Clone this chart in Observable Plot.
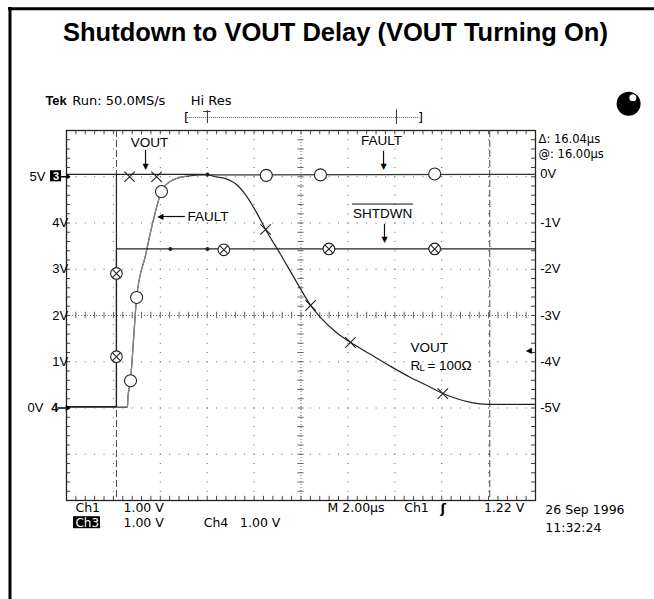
<!DOCTYPE html>
<html><head><meta charset="utf-8">
<script src="https://cdn.jsdelivr.net/npm/d3@7"></script>
<script src="https://cdn.jsdelivr.net/npm/@observablehq/plot@0.6"></script>
<style>
body{margin:0;background:#fff;}
#chart{position:absolute;left:0;top:0;}
g[aria-label="tek-text"] text{letter-spacing:0.5px;}
g[aria-label="tek-readout"] text{letter-spacing:1.3px;}
</style></head><body><div id="chart"></div>
<script>
// Time axis: µs (2 µs/div, 10 div). Left channel volts (1 V/div).
const voutTime  = [0, 5.93, 6.35, 6.78, 7.21, 7.72, 8.10, 8.49, 9.13, 9.77, 10.41, 10.83, 11.47, 12.11, 12.96, 13.82, 14.67, 15.52, 16.03, 16.59, 17.23, 18.00, 20];
const voutVolts = [5.05, 5.05, 5.0, 4.96, 4.85, 4.55, 4.23, 3.86, 3.32, 2.76, 2.22, 1.96, 1.65, 1.42, 1.16, 0.90, 0.66, 0.45, 0.32, 0.21, 0.12, 0.08, 0.08];

const faultTime  = [0, 2.60, 2.62, 2.73, 2.86, 2.99, 3.37, 3.67, 4.05, 4.43, 5.07, 6.01, 20];
const faultVolts = [0.02, 0.02, 0.23, 0.59, 1.49, 2.39, 3.30, 3.99, 4.68, 4.90, 5.01, 5.04, 5.05];

const shdnTime  = [0, 2.13, 2.13, 20];
const shdnVolts = [0.03, 0.03, 3.44, 3.44];

const voutMarkTime  = [2.69, 3.84, 8.49, 10.41, 12.11, 16.05];
const voutMarkVolts = [5.0, 5.0, 3.86, 2.22, 1.42, 0.31];
const faultMarkTime  = [2.73, 2.99, 4.05, 8.52, 10.83, 15.70];
const faultMarkVolts = [0.59, 2.39, 4.68, 5.03, 5.04, 5.06];
const shdnMarkTime  = [2.13, 2.13, 6.71, 11.19, 15.70];
const shdnMarkVolts = [1.11, 2.91, 3.42, 3.44, 3.44];
const traceDotTime  = [6.01, 4.43, 6.01];
const traceDotVolts = [5.05, 3.44, 3.44];

const cursorTimes = [2.13, 18.05];
const timeGrid = [2, 4, 6, 8, 12, 14, 16, 18];
const voltGrid = [-1, 0, 1, 3, 4, 5];
const leftTickVals = [1, 2, 3, 4];
const leftTickLabels = ["1V", "2V", "3V", "4V"];
const rightTickVals = [5, 4, 3, 2, 1, 0];
const rightTickLabels = ["0V", "-1V", "-2V", "-3V", "-4V", "-5V"];

const zip = (ts, vs) => ts.map((t, i) => ({t, v: vs[i]}));
const vout = zip(voutTime, voutVolts);
const fault = zip(faultTime, faultVolts);
const shdn = zip(shdnTime, shdnVolts);
const minorT = d3.range(0, 20.001, 0.4);
const minorV = d3.range(-2, 6.001, 0.2);

const T = (arr, opts) => Plot.text(arr, {x: "t", y: "v", text: "s", ...opts});
const sans = "Liberation Sans, Arial, sans-serif";
const tek = "DejaVu Sans, sans-serif";

const annotations = [
  {s: "VOUT", t: 3.54, v: 5.74, a: "middle"},
  {s: "FAULT", t: 13.43, v: 5.78, a: "middle"},
  {s: "FAULT", t: 5.16, v: 4.13, a: "start"},
  {s: "SHTDWN", t: 13.48, v: 4.21, a: "middle"},
  {s: "VOUT", t: 14.67, v: 1.31, a: "start"}
];

const plot = Plot.plot({
  width: 654, height: 599,
  marginLeft: 66, marginRight: 119, marginTop: 130, marginBottom: 99,
  x: {domain: [0, 20], axis: null},
  y: {domain: [-2, 6], axis: null},
  style: {fontFamily: sans, background: "white", overflow: "visible"},
  marks: [
    // page frame (left and top)
    Plot.ruleX([-2.41], {y1: 8.66, y2: -4.2, stroke: "black", strokeWidth: 3}),
    Plot.ruleY([8.63], {x1: -2.47, x2: 25.2, stroke: "black", strokeWidth: 3}),
    // graticule
    Plot.ruleX(timeGrid, {stroke: "#666", strokeDasharray: "1,8.25"}),
    Plot.ruleY(voltGrid, {stroke: "#666", strokeDasharray: "1,8.38"}),
    Plot.ruleX([10], {stroke: "#666", strokeDasharray: "1,2"}),
    Plot.ruleY([2], {stroke: "#666", strokeDasharray: "1,2"}),
    Plot.ruleX(minorT, {y1: 1.93, y2: 2.07, stroke: "#666"}),
    Plot.ruleY(minorV, {x1: 9.87, x2: 10.13, stroke: "#666"}),
    Plot.ruleX(minorT, {y1: 6, y2: 5.91, stroke: "#444"}),
    Plot.ruleX(minorT, {y1: -2, y2: -1.91, stroke: "#444"}),
    Plot.ruleY(minorV, {x1: 0, x2: 0.17, stroke: "#444"}),
    Plot.ruleY(minorV, {x1: 20, x2: 19.83, stroke: "#444"}),
    Plot.frame({stroke: "#222", strokeWidth: 1.3}),
    // cursors
    Plot.ruleX(cursorTimes, {stroke: "#444", strokeDasharray: "7,3"}),
    Plot.ruleX([cursorTimes[0]], {y1: 0.03, y2: 5.05, stroke: "#222", strokeWidth: 1.2}),
    // traces
    Plot.line(fault, {x: "t", y: "v", stroke: "#333", strokeWidth: 1.2, curve: "monotone-x"}),
    Plot.line(fault.filter(d => d.t >= 2.6 && d.t <= 5.1), {x: "t", y: "v", stroke: "#888", strokeWidth: 1.3, curve: "monotone-x"}),
    Plot.line(shdn, {x: "t", y: "v", stroke: "#222", strokeWidth: 1.2}),
    Plot.line(vout, {x: "t", y: "v", stroke: "#222", strokeWidth: 1.2, curve: "monotone-x"}),
    // markers
    Plot.dot(zip(traceDotTime, traceDotVolts), {x: "t", y: "v", r: 2, fill: "#222"}),
    Plot.dot(zip(faultMarkTime, faultMarkVolts), {x: "t", y: "v", r: 6, fill: "white", stroke: "#222", strokeWidth: 1.1}),
    Plot.dot(zip(shdnMarkTime, shdnMarkVolts), {x: "t", y: "v", r: 5.8, fill: "white", stroke: "#222", strokeWidth: 1.1}),
    Plot.dot(zip(shdnMarkTime, shdnMarkVolts), {x: "t", y: "v", r: 3.6, symbol: "times", stroke: "#222", strokeWidth: 1.1}),
    Plot.dot(zip(voutMarkTime, voutMarkVolts), {x: "t", y: "v", r: 4.8, symbol: "times", stroke: "#222", strokeWidth: 1.1}),
    // annotations
    T(annotations.filter(d => d.a === "middle"), {fontSize: 13.5, textAnchor: "middle"}),
    T(annotations.filter(d => d.a === "start"), {fontSize: 13.5, textAnchor: "start"}),
    Plot.ruleY([4.41], {x1: 12.2, x2: 14.8, stroke: "#111", strokeWidth: 1}),
    T([{s: "R", t: 14.67, v: 0.92}], {fontSize: 13.5, textAnchor: "start"}),
    T([{s: "L", t: 15.05, v: 0.87}], {fontSize: 9.5, textAnchor: "start"}),
    T([{s: "= 100Ω", t: 15.39, v: 0.92}], {fontSize: 13.5, textAnchor: "start"}),
    // annotation arrows
    Plot.ruleX([3.37], {y1: 5.57, y2: 5.25, stroke: "#111", strokeWidth: 1.2}),
    Plot.ruleX([13.52], {y1: 5.55, y2: 5.26, stroke: "#111", strokeWidth: 1.2}),
    Plot.ruleX([13.56], {y1: 3.97, y2: 3.69, stroke: "#111", strokeWidth: 1.2}),
    Plot.ruleY([4.14], {x1: 5.07, x2: 4.1, stroke: "#111", strokeWidth: 1.2}),
    T([{s: "▼", t: 3.37, v: 5.23}, {s: "▼", t: 13.52, v: 5.23}, {s: "▼", t: 13.56, v: 3.65}], {fontSize: 8, fontFamily: "DejaVu Sans"}),
    T([{s: "◀", t: 4.0, v: 4.14}], {fontSize: 8, fontFamily: "DejaVu Sans"}),
    // left axis labels
    T(leftTickVals.map((v, i) => ({t: 0.07, v, s: leftTickLabels[i]})), {fontSize: 13, textAnchor: "end"}),
    T([{s: "5V", t: -0.9, v: 5.0}, {s: "0V", t: -0.98, v: 0}], {fontSize: 13, textAnchor: "end"}),
    Plot.rect([{x1: -0.68, x2: -0.21, y1: 4.89, y2: 5.13}], {x1: "x1", x2: "x2", y1: "y1", y2: "y2", fill: "black"}),
    T([{s: "3", t: -0.45, v: 5.01}], {fontSize: 11, fontWeight: "bold", fill: "white", fontFamily: sans}),
    T([{s: "4", t: -0.5, v: -0.01}], {fontSize: 12.5, fontWeight: "bold"}),
    Plot.arrow([{x1: -0.21, x2: 0.13, y: 5.0}, {x1: -0.36, x2: 0.13, y: 0}], {x1: "x1", x2: "x2", y1: "y", y2: "y", headLength: 5, strokeWidth: 1.5, stroke: "black"}),
    // right axis labels
    T(rightTickVals.map((v, i) => ({t: 20.2, v: v === 5 ? 5.07 : v, s: rightTickLabels[i]})), {fontSize: 13, textAnchor: "start"}),
    T([{s: "◀", t: 19.72, v: 1.24}], {fontSize: 8, fontFamily: "DejaVu Sans"}),
    // scope header
    T([{s: "Tek", t: -0.9, v: 6.65}], {fontSize: 13, fontWeight: "bold", textAnchor: "start"}),
    T([{s: "Run: 50.0MS/s", t: 0.25, v: 6.65}, {s: "Hi Res", t: 5.3, v: 6.65}], {fontSize: 13, fontFamily: tek, textAnchor: "start", ariaLabel: "tek-text"}),
    T([{s: "[", t: 5.12, v: 6.28}, {s: "]", t: 15.1, v: 6.28}], {fontSize: 13, fontFamily: tek}),
    Plot.ruleY([6.28], {x1: 5.15, x2: 15.07, stroke: "#555", strokeDasharray: "1,1"}),
    Plot.ruleX([6.01], {y1: 6.15, y2: 6.43, stroke: "#333"}),
    Plot.ruleY([6.41], {x1: 5.85, x2: 6.17, stroke: "#333"}),
    Plot.ruleX([14.07], {y1: 6.13, y2: 6.45, stroke: "#333"}),
    Plot.dot([{t: 23.97, v: 6.58}], {x: "t", y: "v", r: 12, fill: "black"}),
    Plot.dot([{t: 24.15, v: 6.71}], {x: "t", y: "v", r: 3.5, fill: "white"}),
    // cursor readout
    T([{s: "Δ: 16.04µs", t: 20.13, v: 5.82}, {s: "@: 16.00µs", t: 20.13, v: 5.49}], {fontSize: 11.5, fontFamily: tek, textAnchor: "start", ariaLabel: "tek-readout"}),
    // bottom readout
    Plot.rect([{x1: 0.3, x2: 1.45, y1: -2.61, y2: -2.35}], {x1: "x1", x2: "x2", y1: "y1", y2: "y2", fill: "black"}),
    T([{s: "Ch3", t: 0.38, v: -2.48}], {fontSize: 12, fontFamily: tek, textAnchor: "start", fill: "white", ariaLabel: "tek-text"}),
    T([
      {s: "Ch1", t: 0.38, v: -2.17}, {s: "1.00 V", t: 2.43, v: -2.17},
      {s: "M 2.00µs", t: 11.13, v: -2.17}, {s: "Ch1", t: 14.4, v: -2.17},
      {s: "1.22 V", t: 17.8, v: -2.17},
      {s: "1.00 V", t: 2.43, v: -2.48}, {s: "Ch4", t: 5.85, v: -2.48}, {s: "1.00 V", t: 7.4, v: -2.48}
    ], {fontSize: 12.5, fontFamily: tek, textAnchor: "start", ariaLabel: "tek-text"}),
    T([{s: "26 Sep 1996", t: 20.42, v: -2.21}, {s: "11:32:24", t: 20.42, v: -2.6}], {fontSize: 12.5, fontFamily: tek, textAnchor: "start", ariaLabel: "tek-text"}),
    T([{s: "ʃ", t: 15.95, v: -2.17}], {fontSize: 13, fontWeight: "bold", fontFamily: tek, textAnchor: "start"}),
    // title
    T([{s: "Shutdown to VOUT Delay (VOUT Turning On)", t: 11.47, v: 8.12}], {fontSize: 25.5, fontWeight: "bold", fontFamily: sans})
  ]
});
document.getElementById("chart").appendChild(plot);
</script></body></html>
